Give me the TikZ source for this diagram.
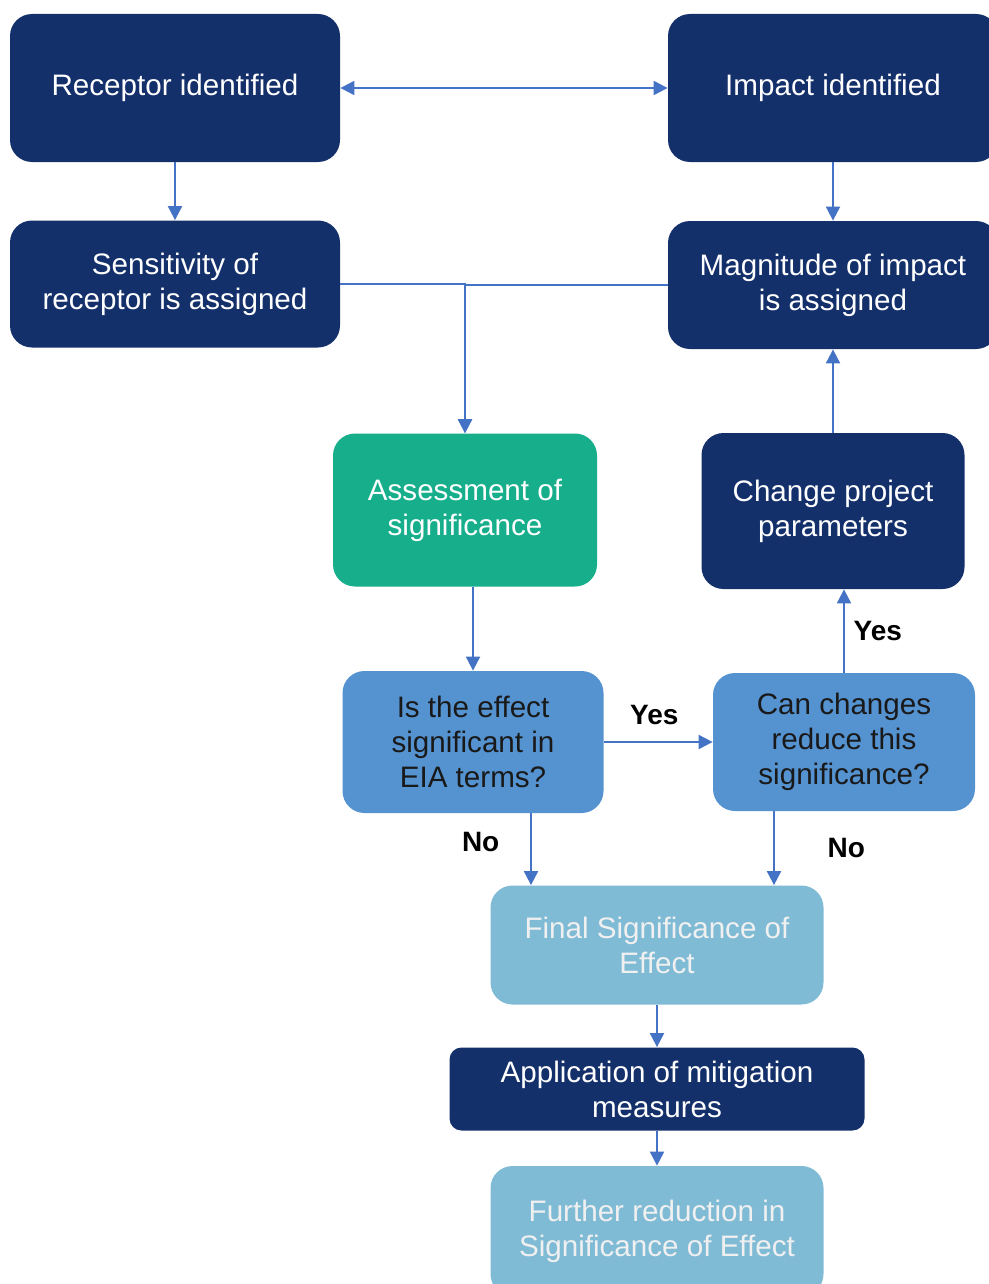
\documentclass[tikz,border=0pt]{standalone}
\usepackage{fontspec}
\setmainfont{Liberation Sans}
\usetikzlibrary{arrows.meta}
\definecolor{navy}{HTML}{14306B}
\definecolor{teal}{HTML}{17AE8C}
\definecolor{midblue}{HTML}{5592D0}
\definecolor{paleblue}{HTML}{80BBD6}
\definecolor{arrowblue}{HTML}{4472C4}
\tikzset{
  box/.style={rounded corners=11pt, align=center, inner sep=0pt,
    font=\fontsize{14.8}{17.5}\selectfont},
  navybox/.style={box, fill=navy, text=white},
  greenbox/.style={box, fill=teal, text=white},
  bluebox/.style={box, fill=midblue, text=black!90},
  palebox/.style={box, fill=paleblue, text=white!94!black},
  arr/.style={draw=arrowblue, line width=1pt, -{Triangle[length=7pt,width=7pt]}},
  answer/.style={font=\fontsize{14}{16}\selectfont\bfseries, text=black}
}
\begin{document}
\begin{tikzpicture}[x=0.5pt,y=-0.5pt]
\clip (0,0) rectangle (989,1284);
\fill[white] (0,0) rectangle (989,1284);
\node[navybox, minimum width=165pt, minimum height=74pt] (rec) at (175,88) {Receptor identified};
\node[navybox, minimum width=165pt, minimum height=74pt] (imp) at (833,88) {Impact identified};
\node[navybox, minimum width=165pt, minimum height=63.5pt] (sens) at (175,284) {Sensitivity of\\receptor is assigned};
\node[navybox, minimum width=165pt, minimum height=64pt] (mag) at (833,285) {Magnitude of impact\\is assigned};
\node[greenbox, minimum width=132pt, minimum height=76.5pt] (assess) at (465,510) {Assessment of\\significance};
\node[navybox, minimum width=131.5pt, minimum height=78pt] (change) at (833,511) {Change project\\parameters};
\node[bluebox, minimum width=130.5pt, minimum height=71pt] (effect) at (473,742) {Is the effect\\significant in\\EIA terms?};
\node[bluebox, minimum width=131pt, minimum height=69pt] (canchg) at (844,742) {Can changes\\reduce this\\significance?};
\node[palebox, minimum width=166.5pt, minimum height=59.5pt] (final) at (657,945) {Final Significance of\\Effect};
\node[navybox, rounded corners=6pt, minimum width=207.5pt, minimum height=41.5pt] (apply) at (657,1089) {Application of mitigation\\measures};
\node[palebox, minimum width=166.5pt, minimum height=65pt] (further) at (657,1231) {Further reduction in\\Significance of Effect};

\draw[arr, {Triangle[length=7pt,width=7pt]}-{Triangle[length=7pt,width=7pt]}] (rec.east) -- (imp.west);
\draw[arr] (rec.south) -- (sens.north);
\draw[arr] (imp.south) -- (mag.north);
\draw[arr] (sens.east) -| (assess.north);
\draw[arr] (mag.west) -| (assess.north);
\draw[arr] (effect.north |- assess.south) -- (effect.north);
\draw[arr] (effect.east) -- node[answer, above=5pt, xshift=-2pt] (yes1) {Yes} (canchg.west);
\draw[arr] (canchg.north) -- node[answer, right=1pt] (yes2) {Yes} (canchg.north |- change.south);
\draw[arr] ([xshift=29pt]effect.south) -- node[answer, left=12pt, yshift=3.5pt] (no1) {No} ([xshift=29pt]effect.south |- final.north);
\draw[arr] (change.north) -- (mag.south);
\draw[arr] ([xshift=-35pt]canchg.south) -- node[answer, right=23pt] (no2) {No} ([xshift=-35pt]canchg.south |- final.north);
\draw[arr] (final.south) -- (apply.north);
\draw[arr] (apply.south) -- (further.north);
\end{tikzpicture}
\end{document}
